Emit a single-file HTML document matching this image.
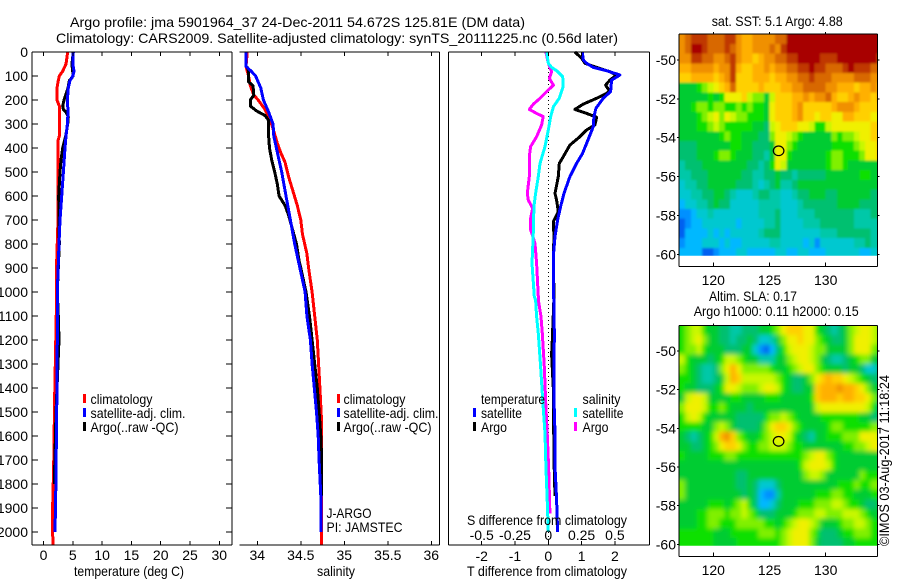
<!DOCTYPE html>
<html>
<head>
<meta charset="utf-8">
<title>Argo profile</title>
<style>
html,body{margin:0;padding:0;background:#fff;width:900px;height:580px;overflow:hidden}
svg{display:block}
text{font-family:"Liberation Sans",sans-serif;font-size:14px;fill:#000}
</style>
</head>
<body>
<svg id="chart" width="900" height="580" viewBox="0 0 900 580" xmlns="http://www.w3.org/2000/svg">
<defs>
<clipPath id="clip-sst"><rect x="679" y="34" width="198.5" height="221.7"/></clipPath>
<clipPath id="clip-sla"><rect x="679" y="325.5" width="198.5" height="220.2"/></clipPath>
<filter id="soft-sst" filterUnits="userSpaceOnUse" x="660" y="15" width="240" height="260"><feGaussianBlur stdDeviation="1.1"/></filter>
<filter id="soft-sla" filterUnits="userSpaceOnUse" x="660" y="305" width="240" height="260"><feGaussianBlur stdDeviation="2.3"/></filter>
</defs>
<g>
<text x="70" y="27" textLength="455" lengthAdjust="spacingAndGlyphs">Argo profile: jma 5901964_37 24-Dec-2011 54.672S 125.81E (DM data)</text>
<text x="56" y="43" textLength="562" lengthAdjust="spacingAndGlyphs">Climatology: CARS2009. Satellite-adjusted climatology: synTS_20111225.nc (0.56d later)</text>
</g>
<text transform="translate(889,546) rotate(-90)" textLength="171" lengthAdjust="spacingAndGlyphs">©IMOS 03-Aug-2017 11:18:24</text>
</svg>
<script>
// ---- axis data ----
const depthTicks = [0,100,200,300,400,500,600,700,800,900,1000,1100,1200,1300,1400,1500,1600,1700,1800,1900,2000];
const tempTicks = [0,5,10,15,20,25,30];
const salTicks = [34,34.5,35,35.5,36];
const salTickLabels = ['34','34.5','35','35.5','36'];
const tDiffTicks = [-2,-1,0,1,2];
const sDiffTicks = [-0.5,-0.25,0,0.25,0.5];
const lonTicks = [120,125,130];
const latTicks = [50,52,54,56,58,60];

// ---- temperature profiles ----
const tempClimDepth = [0,50,80,100,125,150,200,225,300,350,370,500,700,870,1000,1150,1450,1720,1950,2054];
const tempClim = [4.13,3.84,3.27,2.7,2.48,2.3,2.3,2.7,2.7,2.7,2.48,2.48,2.48,2.25,2.25,2.13,1.9,1.74,1.51,1.62];
const tempArgoDepth = [0,50,100,120,150,200,225,240,250,270,300,350,400,450,500,600,700,800,1000,1100,1200,1500,1800];
const tempArgo = [5.09,4.85,5.07,4.41,4.18,3.5,3.27,3.39,3.84,4.24,4.13,3.79,3.27,2.99,2.82,2.59,2.65,2.7,2.36,2.53,2.65,2.13,1.85];
const tempSatDepth = [0,50,80,100,120,150,200,250,300,350,400,500,600,700,800,1000,1200,1500,1850,2000];
const tempSat = [5.09,5.0,5.2,5.0,4.5,4.24,4.07,4.18,4.07,3.84,3.67,3.39,3.1,2.82,2.65,2.36,2.36,2.25,2.08,1.96];

// ---- salinity profiles ----
const salClimDepth = [0,60,100,140,180,200,240,280,330,380,420,460,520,580,640,700,760,840,900,1000,1100,1200,1300,1400,1550,1650,2054];
const salClim = [33.885,33.87,33.9,33.92,33.96,34.01,34.09,34.145,34.19,34.23,34.27,34.32,34.36,34.41,34.46,34.5,34.52,34.57,34.59,34.63,34.66,34.69,34.705,34.72,34.74,34.74,34.74];
const salArgoDepth = [60,80,125,140,180,200,225,245,265,285,310,350,400,450,500,550,600,640,680,720,800,870,900,1000,1100,1200,1300,1400,1500,1600,1700,1850];
const salArgo = [33.88,33.9,33.9,33.95,33.96,33.92,33.92,33.99,34.09,34.13,34.13,34.13,34.14,34.165,34.2,34.23,34.25,34.32,34.36,34.39,34.45,34.48,34.5,34.56,34.6,34.63,34.66,34.69,34.71,34.73,34.74,34.74];
const salSatDepth = [0,60,80,100,125,150,200,250,300,350,400,500,600,700,800,900,1000,1100,1200,1300,1400,1500,1600,1700,1850,2000];
const salSat = [33.87,33.87,33.93,33.98,34.01,34.04,34.07,34.13,34.18,34.19,34.22,34.28,34.33,34.38,34.43,34.49,34.55,34.57,34.61,34.63,34.655,34.68,34.70,34.71,34.73,34.735];

// ---- difference profiles ----
const tDiffSatDepth = [0,33,47,64,78,96,117,165,193,235,269,311,353,422,464,519,589,644,700,769,853,1019,1033,1172,1450,1589,1727,1866,2000];
const tDiffSat = [1.02,1.05,1.15,1.35,1.75,2.15,1.9,1.87,1.65,1.43,1.37,1.35,1.23,1.03,0.85,0.65,0.47,0.37,0.28,0.2,0.15,0.15,0.17,0.18,0.17,0.2,0.2,0.25,0.28];
const tDiffArgoDepth = [0,26,47,64,82,96,117,138,165,193,217,239,256,272,304,325,353,388,436,464,519,589,617,665,707,769,853,1019,1200,1260,1400,1700,1850];
const tDiffArgo = [0.8,1.0,1.1,1.45,1.85,2.05,1.85,1.72,1.85,1.45,1.05,0.8,1.15,1.45,1.4,1.15,0.95,0.65,0.45,0.33,0.3,0.2,0.25,0.3,0.15,0.17,0.15,0.17,0.12,0.1,0.15,0.17,0.2];
const sDiffArgoDepth = [0,47,82,110,138,165,193,217,239,256,269,304,353,394,436,519,589,617,651,693,741,797,880,1019,1033,1102,1172,1311,1450,1589,1727,1922];
const sDiffArgo = [-0.018,0,0.025,0.008,0.038,-0.012,-0.062,-0.112,-0.143,-0.088,-0.038,-0.05,-0.088,-0.133,-0.143,-0.143,-0.158,-0.15,-0.118,-0.133,-0.133,-0.1,-0.088,-0.075,-0.075,-0.055,-0.045,-0.03,-0.02,-0.008,0.002,0.012];
const sDiffSatDepth = [0,47,64,78,103,144,193,228,269,325,394,464,519,589,644,741,825,880,1019,1033,1102,1172,1311,1450,1589,1727,1866,2000];
const sDiffSat = [-0.012,0,0.025,0.062,0.108,0.112,0.082,0.038,0.018,0,-0.025,-0.062,-0.075,-0.095,-0.108,-0.112,-0.118,-0.122,-0.105,-0.095,-0.088,-0.075,-0.058,-0.042,-0.025,-0.018,-0.008,0];

// ---- map grids: colour-level codes, rows from north to south, 0.5 degree cells ----
const sstRows = [
"defffe eeffdc cdddde eggggg gggggg gggggg",
"deggfe eefedc cddded fggggg gggggg gggggg",
"ddffee ddefdc cbcdde effggg gfffgg gggggf",
"ccdddd cddfcb bccdcd deeffg ffeeef gfffee",
"bbcccc bcdfbb bcccbc cddeef eeeddd deeedd",
"666789 abcebb bbcbbb ccddee eeddcc cbccdc",
"666667 67aaab 98869b bbccdc ddecbb cdccbc",
"667887 887787 8776ab bbcdbb bbbcdd dcbbbb",
"666789 a8a988 7776ab bbcdbb abbaac cbbbaa",
"666778 987777 76659a bbbaa9 779aaa aaaabb",
"666666 678776 66558a a98766 666878 89aabb",
"555666 666776 65556a a87666 666777 789aab",
"555666 788766 65546a a76666 667887 778aab",
"455566 666666 55457a 966666 667887 666666",
"445556 666665 544556 554555 556666 667766",
"344556 666655 543456 445666 666666 666666",
"334455 665433 345544 334556 665566 666655",
"233445 655333 334444 333455 555566 665555",
"112334 333333 334445 333444 555555 544455",
"012233 333323 333445 333344 455555 544444",
"022223 232333 334555 333333 344455 555544",
"122233 323223 333344 333323 133333 344544",
"222200 122233 222223 322332 223333 332233"
];
const slaRows = [
"789976 655445 556678 abbbaa 765456 89aa98",
"789a86 655455 653346 8aabaa 876556 8aaa98",
"788976 665556 631025 79aaa9 886666 8aaa87",
"976665 679987 664446 689aa9 865445 678866",
"876544 58aca8 888876 6789aa 876665 665335",
"776544 569cb9 999998 765568 abcbba 987655",
"766555 67aa98 889aa9 765566 bcccdc cba866",
"69aa96 666776 666777 666667 bcccbc cbba86",
"8aaa97 787666 566666 666666 9aaaaa aaa975",
"79a976 666655 555788 987666 677777 776655",
"777766 898655 5568ab ba8766 667887 777788",
"654567 9cdb87 66789a a97654 667778 88aaa9",
"665567 8abba8 778899 987766 666667 7889aa",
"766667 778877 777777 777789 aa8766 666666",
"666666 666666 666666 66679a aa9766 666666",
"666666 666655 666666 666689 986666 668777",
"866666 666655 653335 666666 666677 787788",
"866666 666665 652114 666666 777887 766677",
"666667 776789 752235 666777 888998 776556",
"666778 887889 875556 667888 998889 998766",
"666778 877788 888776 789aa9 866678 899877",
"777777 666777 778887 89aaa8 755567 788877",
"777777 666677 777777 89aaa8 655556 677777"
];
const levelCodes = "0123456789abcdefg";
const levelColours = ["#0060f0","#0090ff","#00b8ff","#00c8d0","#00c8a8","#00c070","#00cc30","#10e000","#80f000","#c8f800","#f0f000","#ffd000","#ffb000","#f09000","#d86800","#c03800","#a80000"];
const floatLon = 125.81;
const floatLat = 54.672;

// ---- axis functions ----
const NS = 'http://www.w3.org/2000/svg';
const svg = document.getElementById('chart');
const yDepth = d => 52 + 0.24 * d;
const xTemp = t => 43.5 + 5.86 * t;
const xSal = s => 257.3 + 87 * (s - 34);
const xTDiff = t => 548.3 + 33.3 * t;
const xSDiff = s => 548.3 + 133.2 * s;
const xLon = l => 713.3 + 11.24 * (l - 120);
const ySstLat = l => 60 + 19.43 * (l - 50);
const ySlaLat = l => 351 + 19.33 * (l - 50);

function el(tag, attrs, parent) {
  const e = document.createElementNS(NS, tag);
  for (const k in attrs) e.setAttribute(k, attrs[k]);
  (parent || svg).appendChild(e);
  return e;
}
function group(name) {
  const g = el('g', {});
  
  
  return g;
}
function line(parent, name, x1, y1, x2, y2) {
  const l = el('line', {x1, y1, x2, y2, stroke: '#000', 'stroke-width': 1, 'shape-rendering': 'crispEdges'}, parent);
  
  
  return l;
}
function label(parent, name, str, x, y, anchor, len) {
  const t = el('text', {x, y, 'text-anchor': anchor || 'start'}, parent);
  t.textContent = str;
  if (len) { t.setAttribute('textLength', len); t.setAttribute('lengthAdjust', 'spacingAndGlyphs'); }
  
  
  return t;
}
function profile(parent, name, colour, xFn, depths, values) {
  const pts = depths.map((d, i) => xFn(values[i]).toFixed(1) + ',' + yDepth(d).toFixed(1)).join(' ');
  const p = el('polyline', {points: pts, fill: 'none', stroke: colour, 'stroke-width': 3, 'stroke-linejoin': 'round', 'shape-rendering': 'crispEdges'}, parent);
  
  
}
function swatch(parent, name, colour, x, y) {
  const r = el('rect', {x, y, width: 3, height: 9, fill: colour}, parent);
  
  
}
const L = 32, R = 232, T = 52, B = 545;

// ---- temperature panel ----
const p1 = group('temperature-panel');
profile(p1, 'temperature-climatology-line', '#ff0000', xTemp, tempClimDepth, tempClim);
profile(p1, 'temperature-argo-line', '#000000', xTemp, tempArgoDepth, tempArgo);
profile(p1, 'temperature-satellite-line', '#0000ff', xTemp, tempSatDepth, tempSat);
line(p1, 'temperature-left-axis', L, T, L, B);
line(p1, 'temperature-right-axis', R, T, R, B);
line(p1, 'temperature-top-axis', L, T, R, T);
line(p1, 'temperature-bottom-axis', L, B, R, B);
depthTicks.forEach(d => {
  line(p1, 'depth-tick-left', L, yDepth(d), L + 6, yDepth(d));
  line(p1, 'depth-tick-right', R - 6, yDepth(d), R, yDepth(d));
  label(p1, 'depth-tick-label', String(d), 28, yDepth(d) + 5, 'end');
});
tempTicks.forEach(t => {
  line(p1, 'temperature-tick-top', xTemp(t), T, xTemp(t), T + 4);
  line(p1, 'temperature-tick-bottom', xTemp(t), B - 4, xTemp(t), B);
  label(p1, 'temperature-tick-label', String(t), xTemp(t), 560, 'middle');
});
label(p1, 'temperature-axis-title', 'temperature (deg C)', 74, 576, 'start', 110);
swatch(p1, 'legend-climatology-swatch', '#ff0000', 83, 394);
swatch(p1, 'legend-satellite-swatch', '#0000ff', 83, 408);
swatch(p1, 'legend-argo-swatch', '#000000', 83, 422);
label(p1, 'legend-climatology', 'climatology', 90.5, 404, 'start', 62);
label(p1, 'legend-satellite', 'satellite-adj. clim.', 90.5, 418, 'start', 95);
label(p1, 'legend-argo', 'Argo(..raw -QC)', 90.5, 432, 'start', 88);

// ---- salinity panel ----
const p2 = group('salinity-panel');
profile(p2, 'salinity-climatology-line', '#ff0000', xSal, salClimDepth, salClim);
profile(p2, 'salinity-argo-line', '#000000', xSal, salArgoDepth, salArgo);
profile(p2, 'salinity-satellite-line', '#0000ff', xSal, salSatDepth, salSat);
line(p2, 'salinity-right-axis', 439.5, T, 439.5, B);
line(p2, 'salinity-top-axis', 239.5, T, 439.5, T);
line(p2, 'salinity-bottom-axis', 239.5, B, 439.5, B);
salTicks.forEach((s, i) => {
  line(p2, 'salinity-tick-top', xSal(s), T, xSal(s), T + 4);
  line(p2, 'salinity-tick-bottom', xSal(s), B - 4, xSal(s), B);
  label(p2, 'salinity-tick-label', salTickLabels[i], xSal(s), 560, 'middle');
});
label(p2, 'salinity-axis-title', 'salinity', 317, 576, 'start', 38);
swatch(p2, 'legend-climatology-swatch', '#ff0000', 337, 394);
swatch(p2, 'legend-satellite-swatch', '#0000ff', 337, 408);
swatch(p2, 'legend-argo-swatch', '#000000', 337, 422);
label(p2, 'legend-climatology', 'climatology', 343.5, 404, 'start', 62);
label(p2, 'legend-satellite', 'satellite-adj. clim.', 343.5, 418, 'start', 95);
label(p2, 'legend-argo', 'Argo(..raw -QC)', 343.5, 432, 'start', 88);
label(p2, 'float-program-label', 'J-ARGO', 326.5, 518, 'start', 45);
label(p2, 'float-pi-label', 'PI: JAMSTEC', 326.5, 532, 'start', 76);

// ---- difference panel ----
const p3 = group('difference-panel');
const zero = el('line', {x1: xTDiff(0), y1: T, x2: xTDiff(0), y2: B, stroke: '#000', 'stroke-dasharray': '1 3', 'shape-rendering': 'crispEdges'}, p3);


profile(p3, 'tdiff-argo-line', '#000000', xTDiff, tDiffArgoDepth, tDiffArgo);
profile(p3, 'tdiff-satellite-line', '#0000ff', xTDiff, tDiffSatDepth, tDiffSat);
profile(p3, 'sdiff-argo-line', '#ff00ff', xSDiff, sDiffArgoDepth, sDiffArgo);
profile(p3, 'sdiff-satellite-line', '#00ffff', xSDiff, sDiffSatDepth, sDiffSat);
line(p3, 'difference-left-axis', 448.5, T, 448.5, B);
line(p3, 'difference-right-axis', 649.5, T, 649.5, B);
line(p3, 'difference-top-axis', 448.5, T, 649.5, T);
line(p3, 'difference-bottom-axis', 448.5, B, 649.5, B);
tDiffTicks.forEach(t => {
  line(p3, 'tdiff-tick-top', xTDiff(t), T, xTDiff(t), T + 4);
  line(p3, 'tdiff-tick-bottom', xTDiff(t), B - 4, xTDiff(t), B);
  label(p3, 'tdiff-tick-label', String(t), xTDiff(t), 561, 'middle');
});
sDiffTicks.forEach(s => {
  label(p3, 'sdiff-tick-label', String(s), xSDiff(s), 540, 'middle');
});
label(p3, 'sdiff-axis-title', 'S difference from climatology', 467, 525, 'start', 160);
label(p3, 'tdiff-axis-title', 'T difference from climatology', 467, 576, 'start', 160);
label(p3, 'legend-temperature-heading', 'temperature', 481, 404, 'start', 64);
label(p3, 'legend-salinity-heading', 'salinity', 582.5, 404, 'start', 38);
swatch(p3, 'legend-tdiff-satellite-swatch', '#0000ff', 473, 408);
swatch(p3, 'legend-tdiff-argo-swatch', '#000000', 473, 422);
swatch(p3, 'legend-sdiff-satellite-swatch', '#00ffff', 574, 408);
swatch(p3, 'legend-sdiff-argo-swatch', '#ff00ff', 574, 422);
label(p3, 'legend-tdiff-satellite', 'satellite', 481, 418, 'start', 41);
label(p3, 'legend-tdiff-argo', 'Argo', 481, 432, 'start', 26);
label(p3, 'legend-sdiff-satellite', 'satellite', 582.5, 418, 'start', 41);
label(p3, 'legend-sdiff-argo', 'Argo', 582.5, 432, 'start', 26);

// ---- maps ----
function drawCells(parent, rows, yLat, cellName) {
  const pad = 8;
  rows.forEach((row, r) => {
    const codes = row.replace(/ /g, '');
    for (let c = 0; c < codes.length; c++) {
      const lon = 117 + 0.5 * c;
      const lat = 48.67 + 0.5 * r;
      // edge cells run past the clip so the soft blur does not fade at the frame
      const x0 = xLon(lon) - (c === 0 ? pad : 0);
      const y0 = yLat(lat) - (r === 0 ? pad : 0);
      const x1 = xLon(lon + 0.5) + (c === codes.length - 1 ? pad : 0.4);
      const y1 = yLat(lat + 0.5) + (r === rows.length - 1 ? pad : 0.4);
      const rect = el('rect', {x: x0, y: y0, width: x1 - x0, height: y1 - y0, fill: levelColours[levelCodes.indexOf(codes[c])], 'shape-rendering': 'crispEdges'}, parent);
      
      
    }
  });
}
function mapAxes(parent, prefix, top, bottom, yLat, labelY) {
  const lft = 679, rgt = 877.5;
  line(parent, prefix + '-left-axis', lft, top, lft, bottom);
  line(parent, prefix + '-right-axis', rgt, top, rgt, bottom);
  line(parent, prefix + '-top-axis', lft, top, rgt, top);
  line(parent, prefix + '-bottom-axis', lft, bottom, rgt, bottom);
  latTicks.forEach(l => {
    line(parent, prefix + '-lat-tick-left', lft - 2, yLat(l), lft, yLat(l));
    line(parent, prefix + '-lat-tick-right', rgt, yLat(l), rgt + 2, yLat(l));
    label(parent, prefix + '-lat-tick-label', '-' + l, 676, yLat(l) + 5, 'end');
  });
  lonTicks.forEach(l => {
    line(parent, prefix + '-lon-tick-top', xLon(l), top - 2, xLon(l), top);
    line(parent, prefix + '-lon-tick-bottom', xLon(l), bottom - 4, xLon(l), bottom);
    label(parent, prefix + '-lon-tick-label', String(l), xLon(l), labelY, 'middle');
  });
}
function floatMarker(parent, name, yLat) {
  const m = el('ellipse', {cx: xLon(floatLon), cy: yLat(floatLat), rx: 5.3, ry: 4.8, fill: 'none', stroke: '#000', 'stroke-width': 1.2}, parent);
  
  
}

const m1 = group('sst-map');
const m1Clip = el('g', {'clip-path': 'url(#clip-sst)'}, m1);
const m1Soft = el('g', {filter: 'url(#soft-sst)'}, m1Clip);
drawCells(m1Soft, sstRows, ySstLat, 'sst-cell');
mapAxes(m1, 'sst-map', 34, 266.5, ySstLat, 285);
floatMarker(m1, 'sst-float-marker', ySstLat);
label(m1, 'sst-map-title', 'sat. SST: 5.1 Argo: 4.88', 711.7, 26, 'start', 131);

const m2 = group('sla-map');
const m2Clip = el('g', {'clip-path': 'url(#clip-sla)'}, m2);
const m2Soft = el('g', {filter: 'url(#soft-sla)'}, m2Clip);
drawCells(m2Soft, slaRows, ySlaLat, 'sla-cell');
mapAxes(m2, 'sla-map', 325.5, 556.5, ySlaLat, 575);
floatMarker(m2, 'sla-float-marker', ySlaLat);
label(m2, 'sla-map-title', 'Altim. SLA: 0.17', 709, 301, 'start', 88);
label(m2, 'sla-map-subtitle', 'Argo h1000: 0.11 h2000: 0.15', 693.7, 316, 'start', 165);
</script>
</body>
</html>
